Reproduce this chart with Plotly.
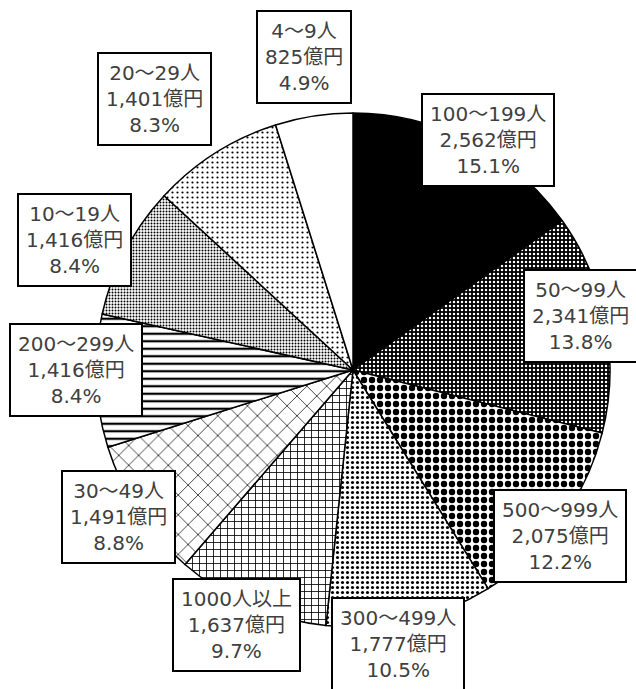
import math
import plotly.graph_objects as go

# ---- data (clockwise from 12 o'clock) ----
categories = ["100～199人", "50～99人", "500～999人", "300～499人", "1000人以上",
              "30～49人", "200～299人", "10～19人", "20～29人", "4～9人"]
values = [2562, 2341, 2075, 1777, 1637, 1491, 1416, 1416, 1401, 825]

# ---- styles ----
bg_colors = ["black", "black", "white", "white", "white", "white", "white", "white", "white", "white"]
fg_colors = ["black", "white", "black", "black", "black", "black", "black", "black", "black", "black"]
shapes = ["", ".", ".", ".", "+", "x", "-", ".", ".", ""]
sizes = [8, 4, 8, 5, 7, 14, 7.5, 3, 5, 8]
solidities = [0.3, 0.3, 0.5, 0.3, 0.22, 0.1, 0.3, 0.35, 0.15, 0.3]

# label placement: nudge (deg) from slice mid-angle and distance (px) from pie centre
label_nudge = [3.2, -2.6, 2.5, 3.5, 1.2, 1.3, 2.4, -2.6, -3.9, -0.1]
label_dist = [267, 234, 265, 278, 280, 277, 277, 307, 336, 317]

W, H = 636, 689
dom_x = [96 / W, 610 / W]
dom_y = [(H - 627) / H, (H - 113) / H]
cx = (dom_x[0] + dom_x[1]) / 2 * W
cy = H - (dom_y[0] + dom_y[1]) / 2 * H

fig = go.Figure(go.Pie(
    labels=categories,
    values=values,
    sort=False,
    direction="clockwise",
    rotation=0,
    textinfo="none",
    hoverinfo="label+value+percent",
    domain=dict(x=dom_x, y=dom_y),
    marker=dict(
        colors=bg_colors,
        line=dict(color="black", width=1.5),
        pattern=dict(shape=shapes, fgcolor=fg_colors, bgcolor=bg_colors,
                     size=sizes, solidity=solidities, fillmode="replace"),
    ),
    showlegend=False,
))

total = sum(values)
annotations = []
cum = 0
for i, (cat, v) in enumerate(zip(categories, values)):
    mid = (cum + v / 2) / total * 360
    cum += v
    ang = math.radians(mid + label_nudge[i])
    px = cx + label_dist[i] * math.sin(ang)
    py = cy - label_dist[i] * math.cos(ang)
    pct = round(v / total * 100, 1)
    text = f"{cat}<br>{v:,}億円<br>{pct:.1f}%"
    annotations.append(dict(
        x=px / W, y=1 - py / H, xref="paper", yref="paper",
        text=text, showarrow=False, xanchor="center", yanchor="middle",
        align="center",
        font=dict(family="DejaVu Sans, Noto Sans CJK JP", size=20, color="#404040"),
        bgcolor="white", bordercolor="black", borderwidth=2, borderpad=7,
    ))

fig.update_layout(
    width=W, height=H,
    margin=dict(l=0, r=0, t=0, b=0),
    paper_bgcolor="white",
    plot_bgcolor="white",
    annotations=annotations,
)

fig.write_html("out.html", config={"displayModeBar": False},
               post_script="document.body.style.margin='0';")
